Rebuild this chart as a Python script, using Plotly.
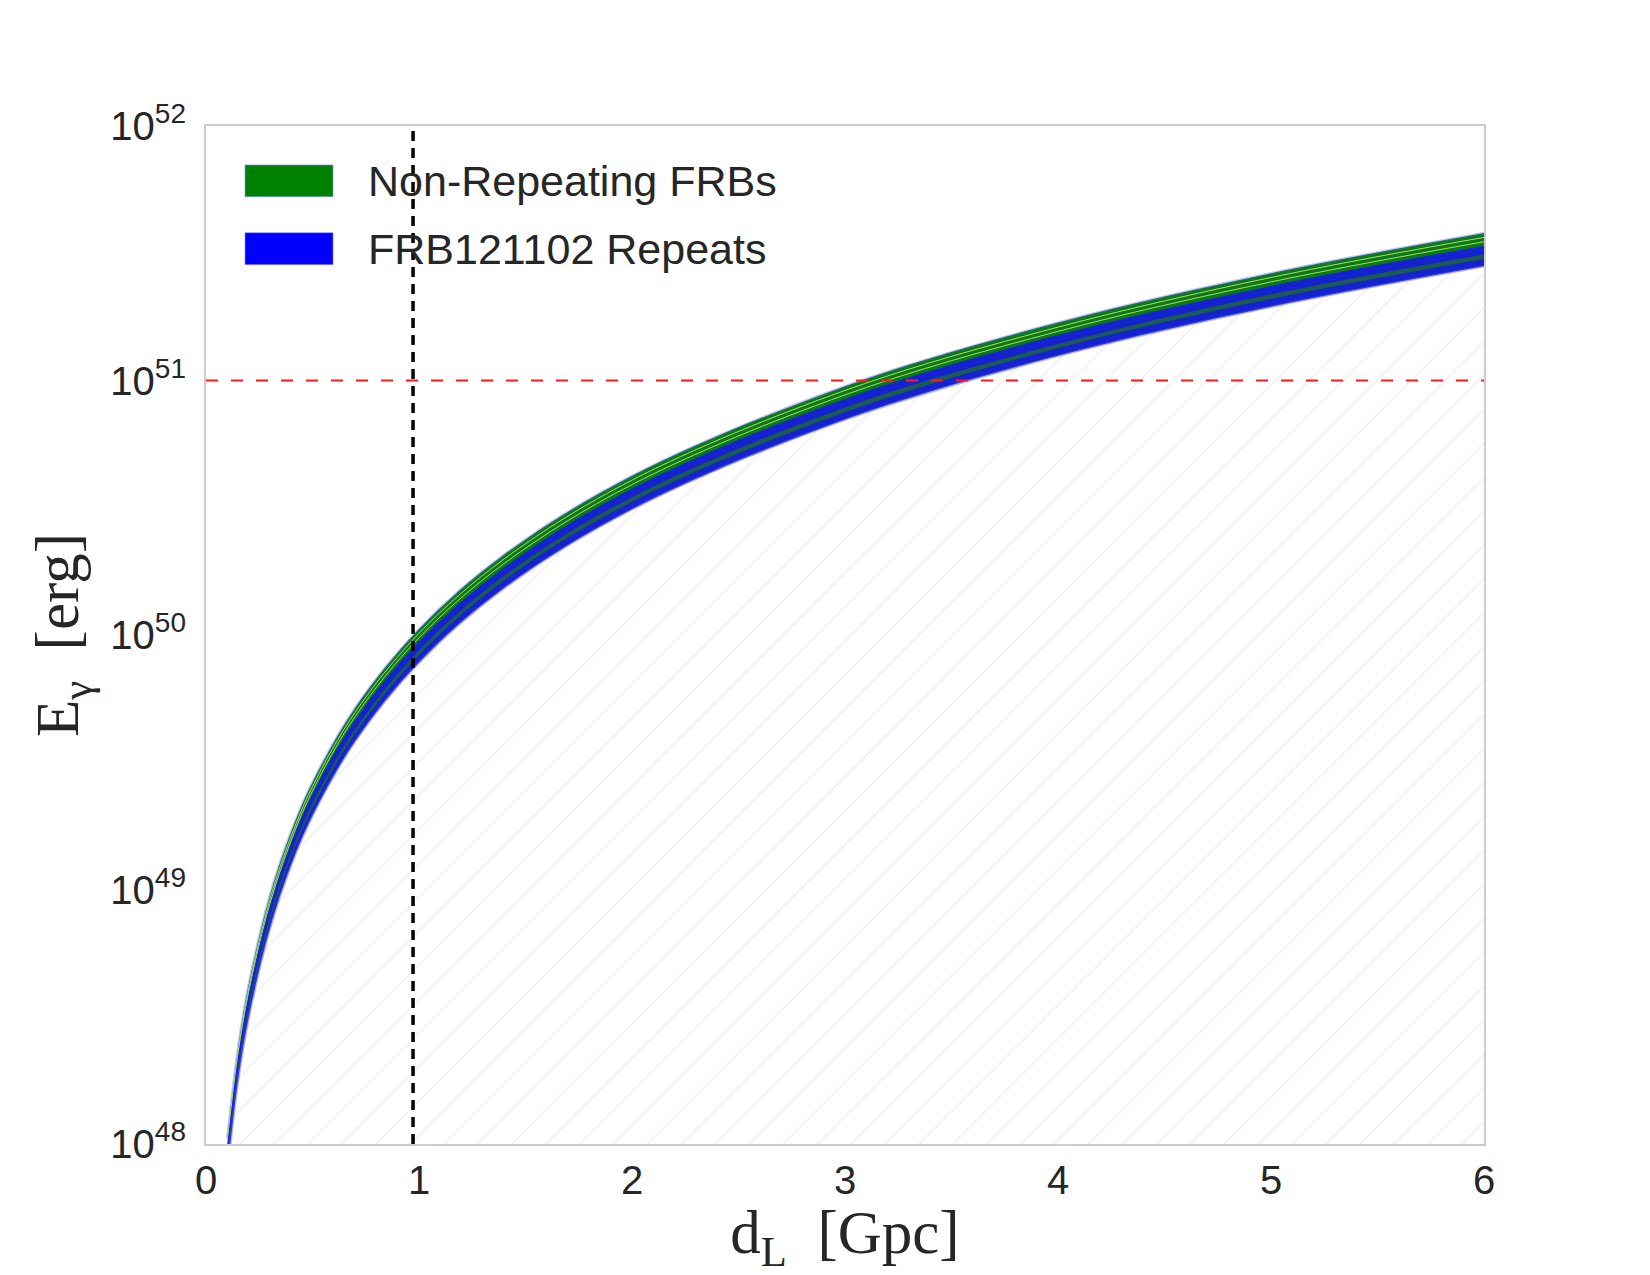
import plotly.graph_objects as go

# ---------------- data ----------------
d_gpc = [0.1, 0.15, 0.2, 0.3, 0.4, 0.5, 0.7, 1.0, 1.4, 2.0, 3.0, 4.0, 5.0, 6.0]

# upper edge of the whole band
e_top = [1.055e48, 2.37e48, 4.22e48, 9.5e48, 1.69e49, 2.64e49, 5.17e49,
         1.055e50, 2.07e50, 4.22e50, 9.5e50, 1.69e51, 2.64e51, 3.80e51]
# seams inside the green (non-repeating) band
e_seam_a = [1.015e48, 2.28e48, 4.06e48, 9.14e48, 1.62e49, 2.54e49, 4.97e49,
            1.015e50, 1.99e50, 4.06e50, 9.14e50, 1.62e51, 2.54e51, 3.65e51]
e_seam_b = [9.75e47, 2.19e48, 3.9e48, 8.78e48, 1.56e49, 2.44e49, 4.78e49,
            9.75e49, 1.91e50, 3.9e50, 8.78e50, 1.56e51, 2.44e51, 3.51e51]
# lower edge of green / upper edge of blue
e_green_low = [9.35e47, 2.10e48, 3.74e48, 8.42e48, 1.50e49, 2.34e49, 4.58e49,
               9.35e49, 1.83e50, 3.74e50, 8.42e50, 1.50e51, 2.34e51, 3.37e51]
# dark strip inside blue band
e_dark_hi = [8.7e47, 1.96e48, 3.48e48, 7.83e48, 1.39e49, 2.18e49, 4.26e49,
             8.7e49, 1.71e50, 3.48e50, 7.83e50, 1.39e51, 2.18e51, 3.13e51]
e_dark_lo = [8.35e47, 1.88e48, 3.34e48, 7.5e48, 1.34e49, 2.09e49, 4.09e49,
             8.35e49, 1.64e50, 3.34e50, 7.5e50, 1.34e51, 2.09e51, 3.0e51]
# lower edge of the band
e_bottom = [7.8e47, 1.76e48, 3.12e48, 7.02e48, 1.25e49, 1.95e49, 3.82e49,
            7.8e49, 1.53e50, 3.12e50, 7.02e50, 1.25e51, 1.95e51, 2.81e51]

baseline = [1e47] * len(d_gpc)

frb121102_dl = [0.972, 0.972]
vline_y = [1e48, 1e52]
hline_x = [0, 6]
hline_y = [1e51, 1e51]

y_tickvals = [1e48, 1e49, 1e50, 1e51, 1e52]
y_ticktext = ["10<sup>48</sup>", "10<sup>49</sup>", "10<sup>50</sup>",
              "10<sup>51</sup>", "10<sup>52</sup>"]
legend_labels = ["Non-Repeating FRBs", "FRB121102 Repeats"]

TEXT = "#262626"
SANS = "Liberation Sans, Arial, sans-serif"
SERIF = "Liberation Serif, Times New Roman, serif"

fig = go.Figure()

def line(y, color, width, fill=None, fillcolor=None, **kw):
    fig.add_trace(go.Scatter(
        x=d_gpc, y=y, mode="lines", line=dict(color=color, width=width, shape="spline"),
        fill=fill, fillcolor=fillcolor, showlegend=False, hoverinfo="skip", **kw))

# hatched region below the band
line(baseline, "rgba(0,0,0,0)", 0)
line(e_bottom, "rgba(0,0,0,0)", 0, fill="tonexty", fillcolor="rgba(0,0,0,0)",
     fillpattern=dict(shape="/", fgcolor="#d6d6d6", bgcolor="rgba(0,0,0,0)",
                      size=24, solidity=0.05))

# green band (non-repeating FRBs)
line(e_green_low, "rgba(0,0,0,0)", 0)
line(e_top, "rgba(90,90,255,0.35)", 2.5, fill="tonexty", fillcolor="#0a7a12")
line(e_seam_a, "rgba(190,225,120,0.9)", 1)
line(e_seam_b, "rgba(190,225,120,0.9)", 1)

# blue band (FRB121102 repeats)
line(e_bottom, "rgba(0,0,0,0)", 0)
line(e_green_low, "#1020d8", 1.2, fill="tonexty", fillcolor="#1422d2")
line(e_dark_lo, "rgba(0,0,0,0)", 0)
line(e_dark_hi, "rgba(0,0,0,0)", 0, fill="tonexty", fillcolor="rgb(28,92,78)")
line(e_bottom, "rgba(80,80,255,0.45)", 2.5)

# reference lines
fig.add_trace(go.Scatter(x=frb121102_dl, y=vline_y, mode="lines",
                         line=dict(color="black", width=3.5, dash="10px,7px"),
                         showlegend=False, hoverinfo="skip"))
fig.add_trace(go.Scatter(x=hline_x, y=hline_y, mode="lines",
                         line=dict(color="#ff1a1a", width=2, dash="12px,13px"),
                         showlegend=False, hoverinfo="skip"))

# legend (large patches like the original)
patch_colors = ["#008000", "#0000ff"]
patch_y = [(0.9305, 0.9618), (0.8638, 0.8952)]
for lab, col, (y0, y1) in zip(legend_labels, patch_colors, patch_y):
    fig.add_shape(type="rect", xref="paper", yref="paper", x0=0.0305, x1=0.0994,
                  y0=y0, y1=y1, fillcolor=col, line=dict(color="rgba(150,150,255,0.6)", width=1))
    fig.add_annotation(xref="paper", yref="paper", x=0.125, y=(y0 + y1) / 2,
                       text=lab, showarrow=False, xanchor="left", yanchor="middle",
                       font=dict(family=SANS, size=43, color=TEXT))

axis_common = dict(showgrid=False, zeroline=False, showline=True, mirror=True,
                   linecolor="#cccccc", linewidth=2, ticks="", ticklen=0,
                   tickfont=dict(family=SANS, size=40, color=TEXT))

fig.update_xaxes(range=[0, 6], dtick=1, tick0=0, ticklabelstandoff=0,
                 title=dict(text="d<sub>L</sub>  [Gpc]", standoff=18,
                            font=dict(family=SERIF, size=61, color=TEXT)),
                 **axis_common)
fig.update_yaxes(type="log", range=[48, 52], tickvals=y_tickvals, ticktext=y_ticktext,
                 ticklabelstandoff=10,
                 title=dict(text="E<sub>γ</sub>  [erg]", standoff=12,
                            font=dict(family=SERIF, size=61, color=TEXT)),
                 **axis_common)

fig.update_layout(width=1650, height=1275,
                  margin=dict(l=206, r=166, t=126, b=128),
                  paper_bgcolor="white", plot_bgcolor="white", showlegend=False)

fig.write_html("out.html")
